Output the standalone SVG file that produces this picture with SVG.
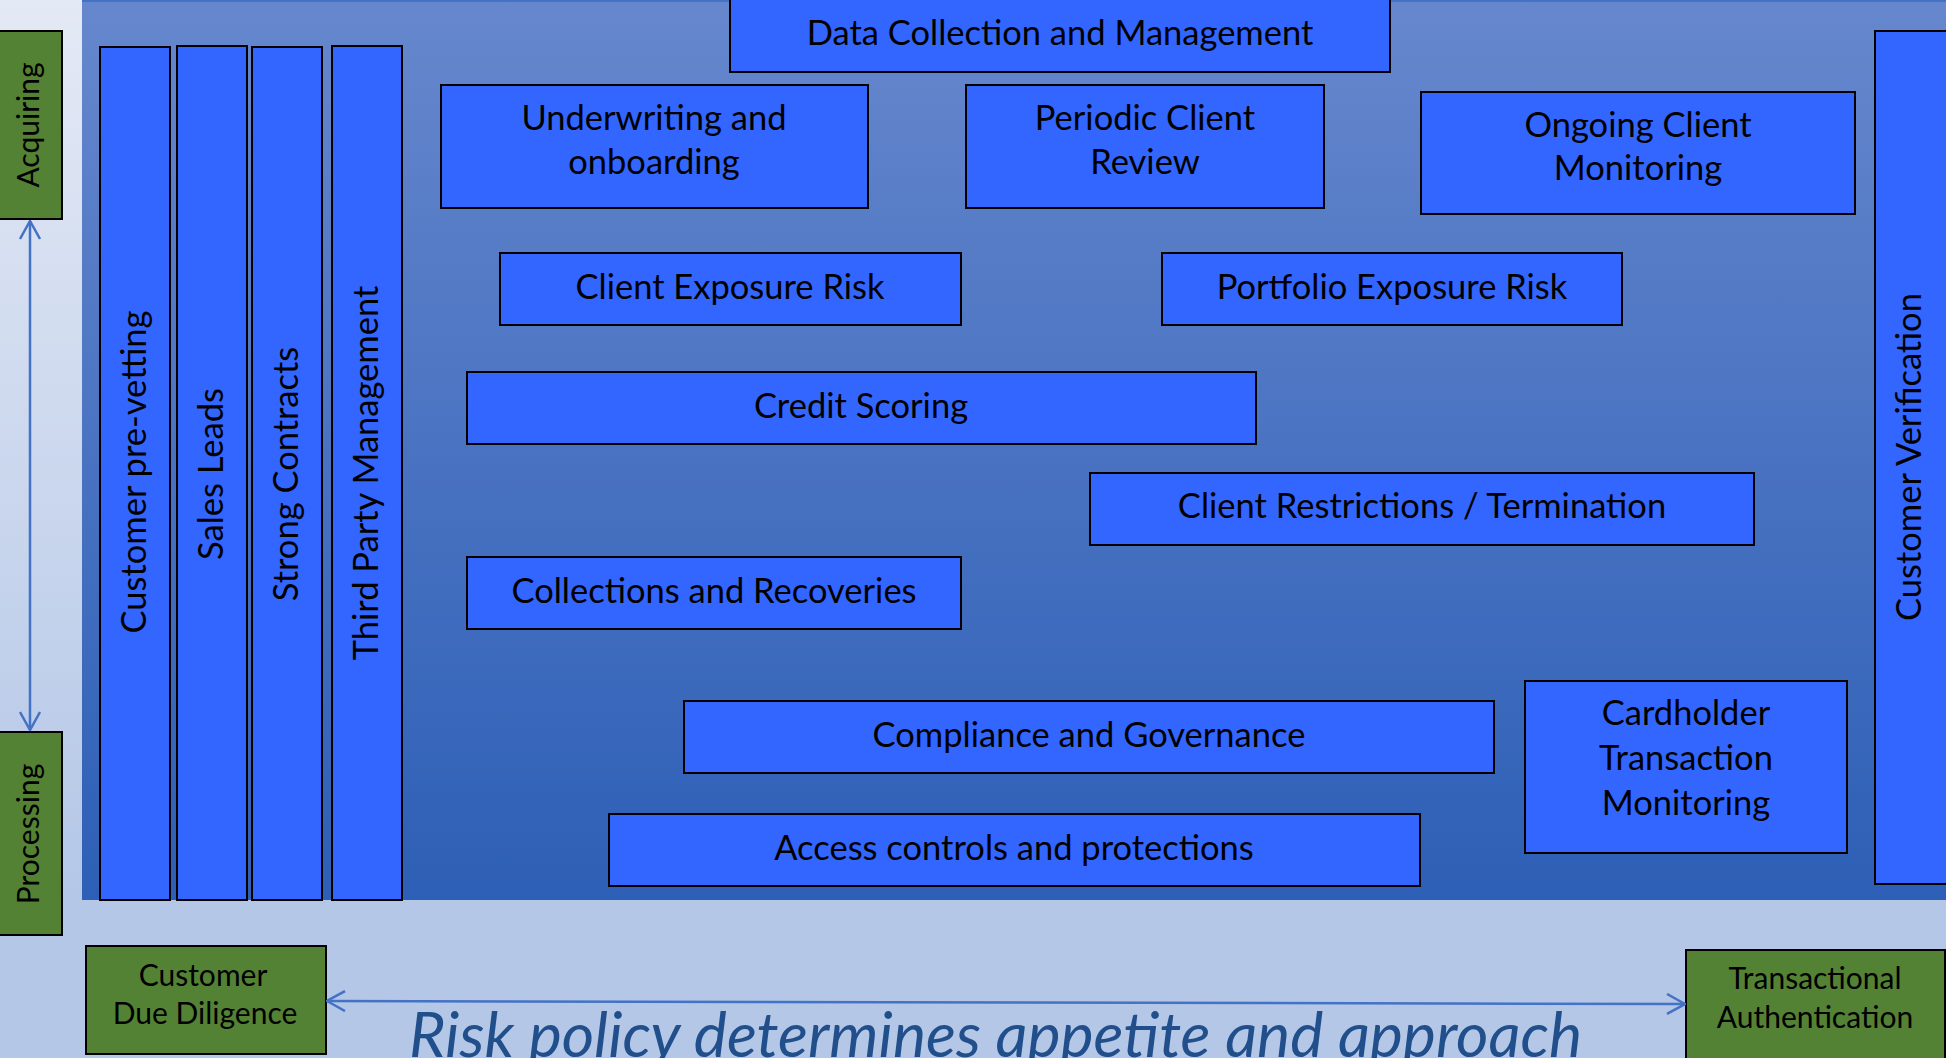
<svg xmlns="http://www.w3.org/2000/svg" width="1946" height="1058" viewBox="0 0 1946 1058">
  <defs>
    <linearGradient id="bgGrad" x1="0" y1="0" x2="0" y2="1">
      <stop offset="0" stop-color="#e4e9f5"/>
      <stop offset="0.85" stop-color="#b4c7e7"/>
      <stop offset="1" stop-color="#b4c7e7"/>
    </linearGradient>
    <linearGradient id="panelGrad" x1="0" y1="0" x2="0" y2="1">
      <stop offset="0" stop-color="#6687cd"/>
      <stop offset="1" stop-color="#2d5fb6"/>
    </linearGradient>
    <marker id="chev" viewBox="0 0 20 22" refX="19" refY="11" markerWidth="20" markerHeight="22" markerUnits="userSpaceOnUse" orient="auto-start-reverse">
      <path d="M1,1 L19,11 L1,21" fill="none" stroke="#4472c4" stroke-width="2.5"/>
    </marker>
    <style>
      .box { fill: #3366ff; stroke: #000; stroke-width: 2; }
      .green { fill: #548235; stroke: #000; stroke-width: 2; }
      .lbl { font-family: Lato, "Liberation Sans", sans-serif; font-size: 34.5px; fill: #000; text-anchor: middle; }
      .glbl { font-family: Lato, "Liberation Sans", sans-serif; font-size: 30px; fill: #000; text-anchor: middle; }
      .conn { fill: none; stroke: #4472c4; stroke-width: 2.5; marker-start: url(#chev); marker-end: url(#chev); }
      .policy { font-family: Lato, "Liberation Sans", sans-serif; font-style: italic; font-size: 63px; fill: #214f8c; }
    </style>
  </defs>

  <!-- background and main panel -->
  <rect x="0" y="0" width="1946" height="1058" fill="url(#bgGrad)"/>
  <rect x="82" y="0" width="1864" height="900" fill="url(#panelGrad)"/>
  <line x1="82" y1="1" x2="1946" y2="1" stroke="#4472c4" stroke-width="2"/>

  <!-- vertical pillars -->
  <g id="customer-prevetting">
    <rect class="box" x="100" y="47" width="70" height="853"/>
    <text class="lbl" transform="translate(146,472) rotate(-90)">Customer pre-vetting</text>
  </g>
  <g id="sales-leads">
    <rect class="box" x="177" y="46" width="70" height="854"/>
    <text class="lbl" transform="translate(223,474) rotate(-90)">Sales Leads</text>
  </g>
  <g id="strong-contracts">
    <rect class="box" x="252" y="47" width="70" height="853"/>
    <text class="lbl" transform="translate(298,474) rotate(-90)">Strong Contracts</text>
  </g>
  <g id="third-party-management">
    <rect class="box" x="332" y="46" width="70" height="854"/>
    <text class="lbl" transform="translate(378,473) rotate(-90)">Third Party Management</text>
  </g>
  <g id="customer-verification">
    <rect class="box" x="1875" y="31" width="72" height="853"/>
    <text class="lbl" transform="translate(1921,457) rotate(-90)">Customer Verification</text>
  </g>

  <!-- capability boxes -->
  <g id="data-collection">
    <rect class="box" x="730" y="-1" width="660" height="73"/>
    <text class="lbl" x="1060" y="45">Data Collection and Management</text>
  </g>
  <g id="underwriting">
    <rect class="box" x="441" y="85" width="427" height="123"/>
    <text class="lbl" x="654" y="130">Underwriting and</text>
    <text class="lbl" x="654" y="174">onboarding</text>
  </g>
  <g id="periodic-review">
    <rect class="box" x="966" y="85" width="358" height="123"/>
    <text class="lbl" x="1145" y="130">Periodic Client</text>
    <text class="lbl" x="1145" y="174">Review</text>
  </g>
  <g id="ongoing-monitoring">
    <rect class="box" x="1421" y="92" width="434" height="122"/>
    <text class="lbl" x="1638" y="137">Ongoing Client</text>
    <text class="lbl" x="1638" y="180">Monitoring</text>
  </g>
  <g id="client-exposure">
    <rect class="box" x="500" y="253" width="461" height="72"/>
    <text class="lbl" x="730" y="299">Client Exposure Risk</text>
  </g>
  <g id="portfolio-exposure">
    <rect class="box" x="1162" y="253" width="460" height="72"/>
    <text class="lbl" x="1392" y="299">Portfolio Exposure Risk</text>
  </g>
  <g id="credit-scoring">
    <rect class="box" x="467" y="372" width="789" height="72"/>
    <text class="lbl" x="861" y="418">Credit Scoring</text>
  </g>
  <g id="client-restrictions">
    <rect class="box" x="1090" y="473" width="664" height="72"/>
    <text class="lbl" x="1422" y="518">Client Restrictions / Termination</text>
  </g>
  <g id="collections">
    <rect class="box" x="467" y="557" width="494" height="72"/>
    <text class="lbl" x="714" y="603">Collections and Recoveries</text>
  </g>
  <g id="compliance">
    <rect class="box" x="684" y="701" width="810" height="72"/>
    <text class="lbl" x="1089" y="747">Compliance and Governance</text>
  </g>
  <g id="access-controls">
    <rect class="box" x="609" y="814" width="811" height="72"/>
    <text class="lbl" x="1014" y="860">Access controls and protections</text>
  </g>
  <g id="cardholder-monitoring">
    <rect class="box" x="1525" y="681" width="322" height="172"/>
    <text class="lbl" x="1686" y="725">Cardholder</text>
    <text class="lbl" x="1686" y="770">Transaction</text>
    <text class="lbl" x="1686" y="815">Monitoring</text>
  </g>

  <!-- green stage boxes -->
  <g id="acquiring">
    <rect class="green" x="-2" y="31" width="64" height="188"/>
    <text class="glbl" transform="translate(39,125) rotate(-90)">Acquiring</text>
  </g>
  <g id="processing">
    <rect class="green" x="-2" y="732" width="64" height="203"/>
    <text class="glbl" transform="translate(39,834) rotate(-90)">Processing</text>
  </g>
  <g id="customer-due-diligence">
    <rect class="green" x="86" y="946" width="240" height="108"/>
    <text class="glbl" x="203" y="986">Customer</text>
    <text class="glbl" x="205" y="1024">Due Diligence</text>
  </g>
  <g id="transactional-authentication">
    <rect class="green" x="1686" y="950" width="259" height="110"/>
    <text class="glbl" x="1815" y="989">Transactional</text>
    <text class="glbl" x="1815" y="1028">Authentication</text>
  </g>

  <!-- connectors -->
  <g id="connectors">
    <line class="conn" x1="30" y1="221" x2="30" y2="730"/>
    <line class="conn" x1="327" y1="1001" x2="1685" y2="1004"/>
  </g>

  <text class="policy" x="409" y="1057" textLength="1173" lengthAdjust="spacingAndGlyphs">Risk policy determines appetite and approach</text>
</svg>
